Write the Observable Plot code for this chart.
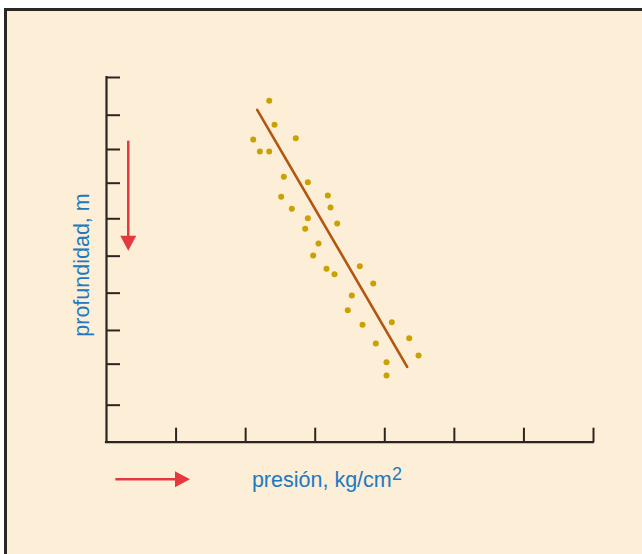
<!DOCTYPE html>
<html><head><meta charset="utf-8">
<script src="https://cdn.jsdelivr.net/npm/d3@7"></script>
<script src="https://cdn.jsdelivr.net/npm/@observablehq/plot@0.6"></script>
<style>
html,body{margin:0;padding:0;background:#fff;overflow:hidden;width:642px;height:554px;}
#frame{position:absolute;left:4px;top:8px;width:700px;height:600px;border:3px solid #2b2724;background:#fdeed7;box-sizing:border-box;}
#chart{position:absolute;left:0;top:0;}
</style></head><body><div id="frame"></div><div id="chart"></div>
<script>
const pressure = [2.339, 2.415, 2.109, 2.721, 2.204, 2.339, 2.549, 2.894, 2.511, 3.181,
                  2.664, 3.220, 2.894, 2.856, 3.316, 3.047, 2.971, 3.162, 3.277, 3.641,
                  3.834, 3.526, 3.468, 4.101, 3.680, 4.351, 3.871, 4.485, 4.025, 4.025];
const depth    = [0.639, 1.297, 1.700, 1.664, 2.029, 2.029, 2.723, 2.871, 3.271, 3.236,
                  3.600, 3.565, 3.858, 4.149, 4.003, 4.552, 4.881, 5.245, 5.393, 5.174,
                  5.648, 5.977, 6.381, 6.710, 6.781, 7.148, 7.294, 7.623, 7.806, 8.171];
// Fitted line end points
const fitPressure = [2.166, 4.322];
const fitDepth    = [0.886, 7.933];
// Tick positions (unlabelled)
const xTicks = [1, 2, 3, 4, 5, 6, 7];
const yTicks = [0, 1.034, 1.974, 2.898, 3.874, 4.899, 5.913, 6.936, 7.860, 8.985];
// Labels
const yLabel = "profundidad, m";
const xLabel = "presión, kg/cm";
const xLabelSup = "2";
// Direction arrows (data coordinates)
const arrowStart = [[0.32, 1.747], [0.134, 11.03]];
const arrowEnd   = [[0.32, 4.763], [1.207, 11.03]];

const points = pressure.map((p, i) => ({p, d: depth[i]}));
const fit = fitPressure.map((p, i) => ({p, d: fitDepth[i]}));
const arrows = arrowStart.map((s, i) => ({x1: s[0], y1: s[1], x2: arrowEnd[i][0], y2: arrowEnd[i][1]}));

const RED = "#e23a3f", BLUE = "#2079c0", INK = "#2a2520";
const FONT = "Liberation Sans, Arial, Helvetica, sans-serif";

function arrowMark(index, scales) {
  const {x, y} = scales;
  const g = d3.create("svg:g");
  for (const a of arrows) {
    const X1 = x(a.x1), Y1 = y(a.y1), X2 = x(a.x2), Y2 = y(a.y2);
    const L = Math.hypot(X2 - X1, Y2 - Y1), ux = (X2 - X1) / L, uy = (Y2 - Y1) / L;
    const hl = 15, hw = 8;
    const bx = X2 - ux * hl, by = Y2 - uy * hl;
    g.append("line").attr("x1", X1).attr("y1", Y1).attr("x2", bx + ux).attr("y2", by + uy)
      .attr("stroke", RED).attr("stroke-width", 2.5);
    g.append("path")
      .attr("d", `M${X2},${Y2}L${bx - uy * hw},${by + ux * hw}L${bx + uy * hw},${by - ux * hw}Z`)
      .attr("fill", RED);
  }
  return g.node();
}

const chart = Plot.plot({
  width: 642,
  height: 554,
  marginTop: 77,
  marginLeft: 106,
  marginRight: 49,
  marginBottom: 112.3,
  style: {background: "none", overflow: "visible", fontFamily: FONT},
  x: {domain: [0, 7]},
  y: {domain: [0, 10], reverse: true},
  marks: [
    Plot.axisX(xTicks, {tickSize: -14, fill: "none", label: null, stroke: INK, strokeWidth: 2}),
    Plot.axisY(yTicks, {tickSize: -14, fill: "none", label: null, stroke: INK, strokeWidth: 2}),
    Plot.ruleY([10], {stroke: INK, strokeWidth: 2.2, strokeLinecap: "square"}),
    Plot.ruleX([0], {stroke: INK, strokeWidth: 2.2, strokeLinecap: "square"}),
    Plot.dot(points, {x: "p", y: "d", r: 3, fill: "#c9a100", stroke: "none"}),
    Plot.line(fit, {x: "p", y: "d", stroke: "#b3560f", strokeWidth: 2.6}),
    arrowMark,
    Plot.text([yLabel], {x: -0.344, y: 5.141, text: d => d, rotate: -90, fill: BLUE, fontSize: 21.5, fontFamily: FONT}),
    Plot.text([xLabel], {x: 3.095, y: 11.045, text: d => d, fill: BLUE, fontSize: 21.5, fontFamily: FONT}),
    Plot.text([xLabelSup], {x: 4.175, y: 10.89, text: d => d, fill: BLUE, fontSize: 18, fontFamily: FONT})
  ]
});
document.getElementById("chart").appendChild(chart);
</script>
</body></html>
